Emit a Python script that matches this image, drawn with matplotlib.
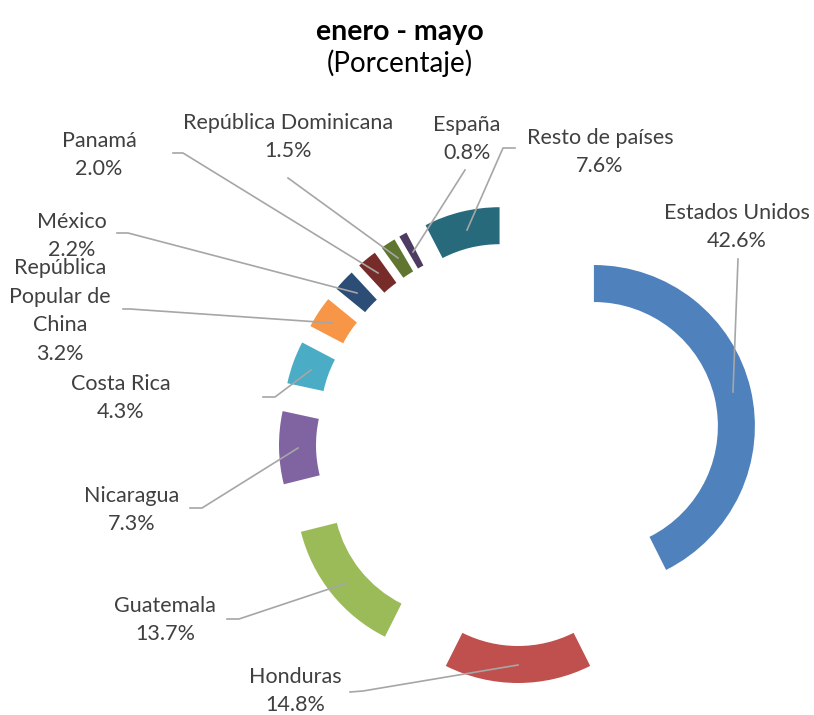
import matplotlib.pyplot as plt

plt.rcParams['font.family'] = ['Lato', 'DejaVu Sans']

countries = ['Estados Unidos', 'Honduras', 'Guatemala', 'Nicaragua', 'Costa Rica',
             'República\nPopular de\nChina', 'México', 'Panamá',
             'República Dominicana', 'España', 'Resto de países']
shares = [42.6, 14.8, 13.7, 7.3, 4.3, 3.2, 2.2, 2.0, 1.5, 0.8, 7.6]
colors = ['#4F81BD', '#C0504D', '#9BBB59', '#8064A2', '#4BACC6', '#F79646',
          '#2C4D75', '#772C2A', '#5F7530', '#4D3B62', '#276A7C']

# label text centres and leader lines, in pixel coordinates (y down)
label_pos = [(737, 227), (295, 691), (165, 620), (132, 510), (121, 398),
             (60, 311), (72, 236), (99, 155), (288, 137), (467, 139), (600, 152)]
leaders = [
    [(738, 259), (733, 392)],
    [(350, 692), (363, 691), (518, 665)],
    [(227, 619), (239, 619), (347, 583)],
    [(190, 508), (202, 508), (298, 448)],
    [(263, 397), (275, 397), (311, 370)],
    [(123, 309), (130, 309), (333, 323)],
    [(117, 233), (128, 233), (357, 293)],
    [(173, 153), (183, 153), (378, 273)],
    [(288, 178), (398, 258)],
    [(465, 170), (413, 252)],
    [(515, 148), (503, 148), (467, 230)],
]

fig = plt.figure(figsize=(8.14, 7.15), dpi=100)
ax = fig.add_axes([0, 0, 1, 1])

# y axis is inverted below, so counter-clockwise in data = clockwise on screen
ax.pie(shares, colors=colors, startangle=-90, counterclock=True,
       radius=161, center=(518, 444), explode=[78] * len(shares),
       wedgeprops=dict(width=37, linewidth=0))

for pts in leaders:
    xs, ys = zip(*pts)
    ax.plot(xs, ys, color='#A6A6A6', lw=1.2, zorder=3)

for name, val, (x, y) in zip(countries, shares, label_pos):
    ax.text(x, y, f'{name}\n{val:.1f}%', ha='center', va='center',
            fontsize=15.5, color='#404040', linespacing=1.55, zorder=4)

ax.text(400, 32, 'enero - mayo', ha='center', va='center',
        fontsize=20.5, fontweight='bold', color='black')
ax.text(400, 63, '(Porcentaje)', ha='center', va='center',
        fontsize=20, color='black')

ax.set_xlim(0, 814)
ax.set_ylim(715, 0)
ax.set_aspect('equal')
ax.axis('off')

fig.savefig('out.png', dpi=100, facecolor='white')
